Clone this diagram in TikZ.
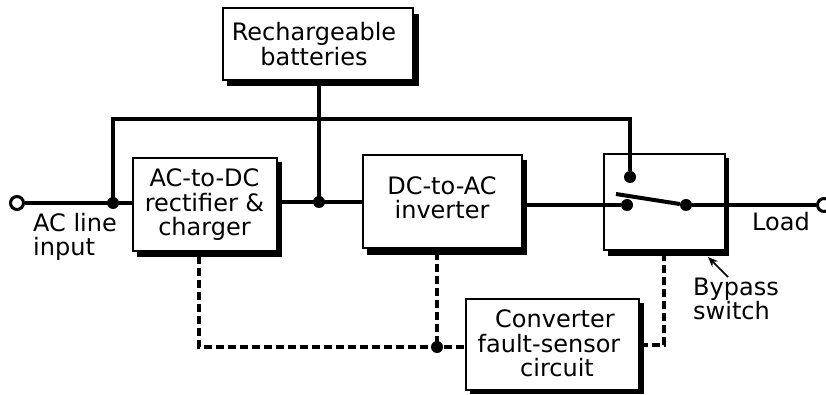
\documentclass[tikz,border=0pt]{standalone}
\usepackage{fontspec}
\setmainfont{DejaVu Sans}
\usetikzlibrary{arrows.meta}
\begin{document}
\begin{tikzpicture}[x=1pt,y=-1pt,
  wire/.style={line width=4pt},
  ctl/.style={line width=3.8pt,dash pattern=on 8pt off 4pt},
  lbl/.style={font=\fontsize{24}{24.5}\selectfont,align=center,inner sep=0pt,text=black},
  dotj/.style={circle,fill=black,inner sep=0pt,minimum size=12pt},
  term/.style={circle,draw=black,fill=white,line width=3pt,inner sep=0pt,minimum size=13pt},
  boxn/.style={draw=black,line width=2.7pt,fill=white,inner sep=0pt}]
\useasboundingbox (0,0) rectangle (826,395);
\fill[white] (0,0) rectangle (826,395);
% nodes
\node[term] (inT) at (17,203) {};
\node[term] (outT) at (824,205) {};
\coordinate (j1) at (113,203);
\coordinate (j2) at (319,202);
\coordinate (j3) at (437,347);
% wires below boxes
\draw[wire] (inT) -- (133,203);
\draw[wire] (277,202) -- (363,202);
\draw[wire] (522,205) -- (604,205);
\draw[wire] (725,205) -- (outT);
\draw[wire] (j1) -- (113,119) -- (630,119) -- (630,172);
\draw[wire] (319,80) -- (j2);
\draw[ctl] (199,256) -- (199,347) -- (466,347);
\draw[ctl] (437,252) -- (j3);
\draw[ctl] (640,345) -- (664,345) -- (664,254);
% shadows
\fill (227,14) rectangle (419,86);
\fill (137,162) rectangle (282,257);
\fill (367,160) rectangle (527,255);
\fill (608,158) rectangle (729,256);
\fill (470,303) rectangle (644,394);
% boxes
\node[boxn,minimum width=190pt,minimum height=72pt] (bat) at (318,44) {};
\node[lbl] at (314,44) {Rechargeable\\batteries};
\node[boxn,minimum width=144pt,minimum height=93pt] (ch) at (205,204.5) {};
\node[lbl] at (204.5,205) {AC-to-DC\\rectifier \&\\charger};
\node[boxn,minimum width=159pt,minimum height=93pt] (inv) at (442.5,201.5) {};
\node[lbl] at (442,198) {DC-to-AC\\inverter};
\node[boxn,minimum width=121pt,minimum height=96pt] (sw) at (664.5,202) {};
\node[boxn,minimum width=173pt,minimum height=91pt] (cv) at (552.5,344.5) {};
\node[lbl] (cv1) at (555,319) {Converter};
\node[lbl] (cv2) at (549,343.5) {fault-sensor};
\node[lbl] (cv3) at (557,368) {circuit};
% switch internals
\node[dotj] (d1) at (630,177) {};
\node[dotj] (d2) at (627,205) {};
\node[dotj] (d3) at (686,205) {};
\draw[wire] (630,150) -- (d1);
\draw[wire] (604,205) -- (d2);
\draw[wire] (d3) -- (725,205);
\draw[wire] (616,194) -- (d3);
% junction dots
\node[dotj] at (j1) {};
\node[dotj] at (j2) {};
\node[dotj] at (j3) {};
% labels
\node[lbl,align=left,anchor=west] (aclbl) at (33,237) {AC line\\input};
\node[lbl,anchor=west] (load) at (752,222) {Load};
\node[lbl,align=left,anchor=west] (bp) at (693,299) {Bypass\\switch};
\coordinate (arrtail) at (728,277);
\coordinate (arrtip) at (708,257);
\draw[line width=1.6pt,-{Stealth[length=10pt,width=8pt]}] (arrtail) -- (arrtip);
\end{tikzpicture}
\end{document}
